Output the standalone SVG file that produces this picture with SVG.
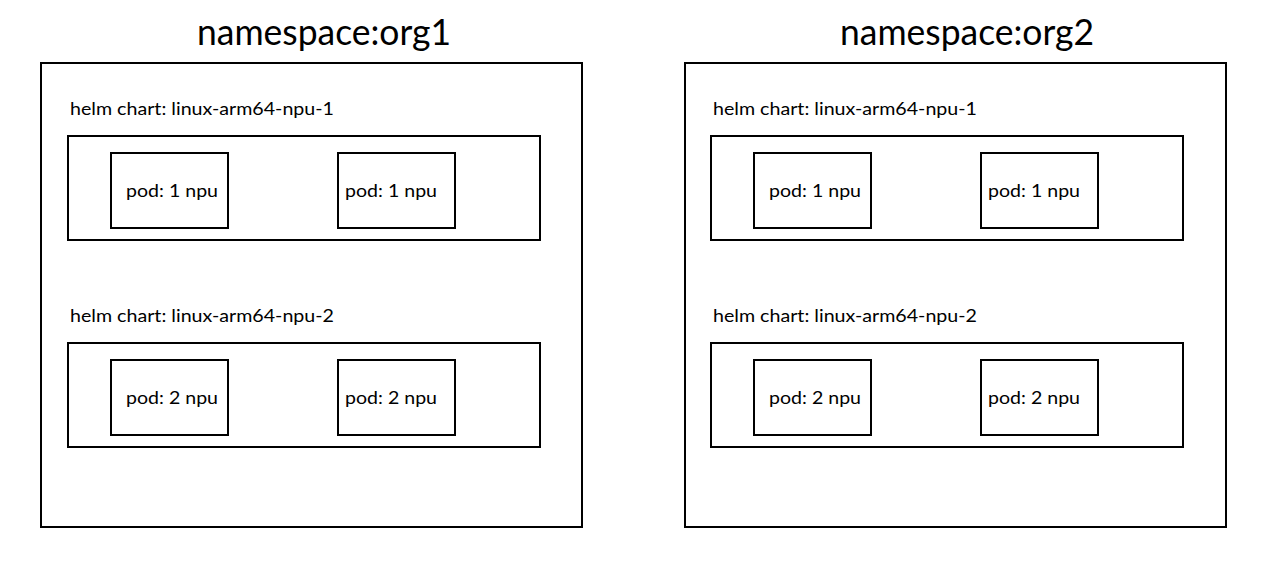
<svg xmlns="http://www.w3.org/2000/svg" width="1271" height="583" viewBox="0 0 1271 583">
<style>
.box{fill:#fff;stroke:#000;stroke-width:2}
.t{font-family:Lato,"Open Sans","Liberation Sans",sans-serif;fill:#000}
.title{font-size:36px}
.lbl{font-size:18px}
.pod{font-size:18px}
</style>
<rect width="1271" height="583" fill="#fff"/>
<g id="org1">
<text class="t title" x="197" y="45" textLength="254" lengthAdjust="spacingAndGlyphs">namespace:org1</text>
<rect class="box" x="41" y="63" width="541" height="464"/>
<g id="org1-chart1">
<text class="t lbl" x="70" y="115" textLength="264" lengthAdjust="spacingAndGlyphs">helm chart: linux-arm64-npu-1</text>
<rect class="box" x="68" y="136" width="472" height="104"/>
<g id="org1-chart1-pod1"><rect class="box" x="111" y="153" width="117" height="75"/><text class="t pod" x="126" y="197" textLength="92" lengthAdjust="spacingAndGlyphs">pod: 1 npu</text></g>
<g id="org1-chart1-pod2"><rect class="box" x="338" y="153" width="117" height="75"/><text class="t pod" x="345" y="197" textLength="92" lengthAdjust="spacingAndGlyphs">pod: 1 npu</text></g>
</g>
<g id="org1-chart2">
<text class="t lbl" x="70" y="322" textLength="264" lengthAdjust="spacingAndGlyphs">helm chart: linux-arm64-npu-2</text>
<rect class="box" x="68" y="343" width="472" height="104"/>
<g id="org1-chart2-pod1"><rect class="box" x="111" y="360" width="117" height="75"/><text class="t pod" x="126" y="404" textLength="92" lengthAdjust="spacingAndGlyphs">pod: 2 npu</text></g>
<g id="org1-chart2-pod2"><rect class="box" x="338" y="360" width="117" height="75"/><text class="t pod" x="345" y="404" textLength="92" lengthAdjust="spacingAndGlyphs">pod: 2 npu</text></g>
</g>
</g>
<g id="org2">
<text class="t title" x="840" y="45" textLength="254" lengthAdjust="spacingAndGlyphs">namespace:org2</text>
<rect class="box" x="685" y="63" width="541" height="464"/>
<g id="org2-chart1">
<text class="t lbl" x="713" y="115" textLength="264" lengthAdjust="spacingAndGlyphs">helm chart: linux-arm64-npu-1</text>
<rect class="box" x="711" y="136" width="472" height="104"/>
<g id="org2-chart1-pod1"><rect class="box" x="754" y="153" width="117" height="75"/><text class="t pod" x="769" y="197" textLength="92" lengthAdjust="spacingAndGlyphs">pod: 1 npu</text></g>
<g id="org2-chart1-pod2"><rect class="box" x="981" y="153" width="117" height="75"/><text class="t pod" x="988" y="197" textLength="92" lengthAdjust="spacingAndGlyphs">pod: 1 npu</text></g>
</g>
<g id="org2-chart2">
<text class="t lbl" x="713" y="322" textLength="264" lengthAdjust="spacingAndGlyphs">helm chart: linux-arm64-npu-2</text>
<rect class="box" x="711" y="343" width="472" height="104"/>
<g id="org2-chart2-pod1"><rect class="box" x="754" y="360" width="117" height="75"/><text class="t pod" x="769" y="404" textLength="92" lengthAdjust="spacingAndGlyphs">pod: 2 npu</text></g>
<g id="org2-chart2-pod2"><rect class="box" x="981" y="360" width="117" height="75"/><text class="t pod" x="988" y="404" textLength="92" lengthAdjust="spacingAndGlyphs">pod: 2 npu</text></g>
</g>
</g>
<g id="connectors"></g>
</svg>
